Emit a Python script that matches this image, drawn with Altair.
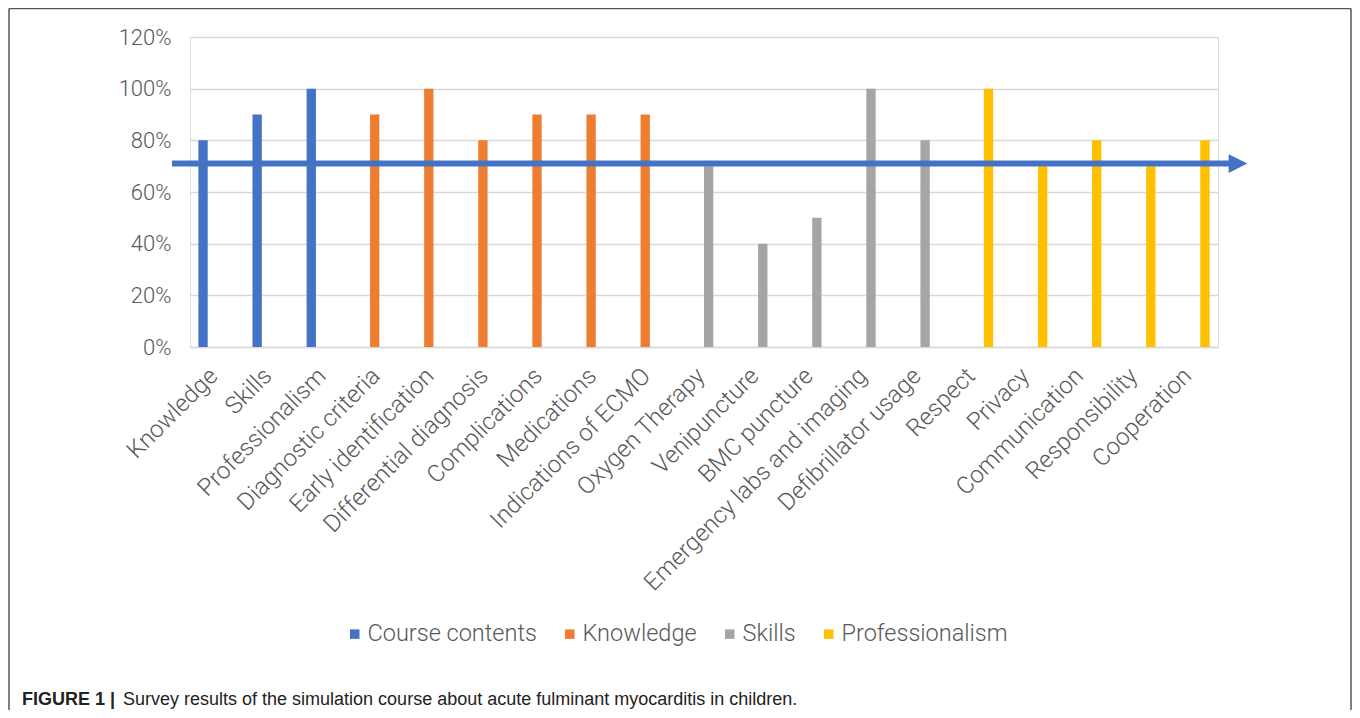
import altair as alt
import pandas as pd

categories = ["Knowledge", "Skills", "Professionalism", "Diagnostic criteria",
              "Early identification", "Differential diagnosis", "Complications",
              "Medications", "Indications of ECMO", "Oxygen Therapy", "Venipuncture",
              "BMC puncture", "Emergency labs and imaging", "Defibrillator usage",
              "Respect", "Privacy", "Communication", "Responsibility", "Cooperation"]
groups = ["Course contents"] * 3 + ["Knowledge"] * 6 + ["Skills"] * 5 + ["Professionalism"] * 5
values = [80, 90, 100, 90, 100, 80, 90, 90, 90, 70, 40, 50, 100, 80, 100, 70, 80, 70, 80]
series = ["Course contents", "Knowledge", "Skills", "Professionalism"]
colors = ["#4472C4", "#ED7D31", "#A5A5A5", "#FFC000"]
threshold = [71]
caption_bold = ["FIGURE 1 |"]
caption_text = ["Survey results of the simulation course about acute fulminant myocarditis in children."]

df = pd.DataFrame({"category": categories, "series": groups, "value": values})

W, H = 1028, 310
BOTTOM = 363
RIGHT = 134
FONT = "Roboto"
GREY = "#595959"

bars = alt.Chart(df).mark_bar().encode(
    x=alt.X("category:N", sort=categories, title=None,
            scale=alt.Scale(paddingInner=0.31, paddingOuter=0.155),
            axis=alt.Axis(labelAngle=-45, labelAlign="right", labelBaseline="middle",
                          labelFontSize=24, labelColor=GREY, labelFont=FONT,
                          labelFontWeight=300, labelLimit=400, ticks=False, domainColor="#d9d9d9",
                          domainWidth=1.5, labelPadding=25, labelOffset=-3)),
    xOffset=alt.XOffset("series:N", scale=alt.Scale(domain=series, paddingInner=0, paddingOuter=0)),
    y=alt.Y("value:Q", title=None, scale=alt.Scale(domain=[0, 120]),
            axis=alt.Axis(values=[0, 20, 40, 60, 80, 100, 120], labelExpr="datum.value + '%'",
                          labelFontSize=22, labelColor=GREY, labelFont=FONT, labelFontWeight=300,
                          domain=False, ticks=False, gridColor="#d9d9d9", gridWidth=1.5,
                          labelPadding=19)),
    color=alt.Color("series:N", scale=alt.Scale(domain=series, range=colors),
                    legend=alt.Legend(title=None, orient="none", direction="horizontal",
                                      legendX=153, legendY=585, symbolType="square",
                                      symbolSize=90, symbolStrokeWidth=0, labelFontSize=23.5,
                                      labelFont=FONT, labelFontWeight=300, labelColor=GREY,
                                      labelLimit=400, columnPadding=21, labelOffset=1)),
)

tdf = pd.DataFrame({"t": threshold})
arrow_line = alt.Chart(tdf).mark_rule(color="#4472C4", strokeWidth=6).encode(
    x=alt.value(-18), x2=alt.value(1040), y=alt.Y("t:Q"))
arrow_head = alt.Chart(tdf).mark_point(shape="M-1,-1L1,0L-1,1Z", filled=True, size=350,
                                       color="#4472C4", opacity=1, strokeWidth=0).encode(
    x=alt.value(1048), y=alt.Y("t:Q"))

one = pd.DataFrame({"a": [0]})
frame_style = dict(color="#555555", strokeWidth=1.5)
left = alt.Chart(one).mark_rule(**frame_style).encode(
    x=alt.value(-181), y=alt.value(-28.5), y2=alt.value(H + BOTTOM))
top = alt.Chart(one).mark_rule(**frame_style).encode(
    x=alt.value(-181), x2=alt.value(W + RIGHT - 1), y=alt.value(-28.5))
right = alt.Chart(one).mark_rule(**frame_style).encode(
    x=alt.value(W + RIGHT - 1), y=alt.value(-28.5), y2=alt.value(H + BOTTOM))

cb = alt.Chart(pd.DataFrame({"s": caption_bold})).mark_text(
    align="left", baseline="alphabetic", font="Liberation Sans", fontSize=18,
    fontWeight="bold", color="#222222").encode(
    x=alt.value(-168), y=alt.value(668), text="s:N")
ct = alt.Chart(pd.DataFrame({"s": caption_text})).mark_text(
    align="left", baseline="alphabetic", font="Liberation Sans", fontSize=18,
    color="#222222").encode(
    x=alt.value(-67), y=alt.value(668), text="s:N")

chart = alt.layer(bars, arrow_line, arrow_head, left, top, right, cb, ct).properties(
    width=W, height=H,
    autosize=alt.AutoSizeParams(type="none"),
    padding={"left": 182, "top": 29, "right": RIGHT, "bottom": BOTTOM},
).configure_view(stroke=None).configure(background="white")

chart.save("out.html", embed_options={"renderer": "svg", "actions": False})
